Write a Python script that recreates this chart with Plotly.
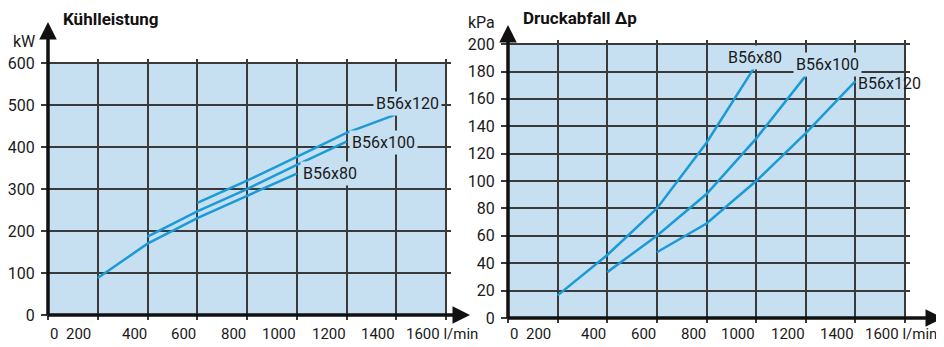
import plotly.graph_objects as go

# Kühlleistung (kW) vs flow (l/min)
flow_80 = [200, 400, 600, 800, 1000]
kw_80 = [88, 170, 231, 284, 337]
flow_100 = [400, 600, 800, 1000, 1200]
kw_100 = [187, 247, 300, 358, 413]
flow_120 = [600, 800, 1000, 1200, 1400]
kw_120 = [267, 320, 377, 434, 478]

# Druckabfall (kPa) vs flow (l/min)
dp_80 = [16.5, 46, 80, 128, 185]
dp_100 = [33.5, 60, 90.5, 131, 177]
dp_120 = [48, 69, 100, 135, 173]

x_ticks = [0, 200, 400, 600, 800, 1000, 1200, 1400, 1600]
series_names = ["B56x80", "B56x100", "B56x120"]

BLUE_BG = "#c6e0f1"
LINE = "#1a9bd7"
GRID = "#3a3a3a"
TXT = "#1a1a1a"
FONT = "Roboto, Liberation Sans, sans-serif"

# the page body keeps its default 8px margin, so the figure sits at (8, 8)
OFF = 8
W, H = 944 - OFF, 347 - OFF


def px_x(p):
    # screen pixel -> paper fraction
    return (p - OFF) / W


def px_y(p):
    return 1 - (p - OFF) / H


fig = go.Figure()

# left chart
for fx, fy in [(flow_80, kw_80), (flow_100, kw_100), (flow_120, kw_120)]:
    fig.add_trace(go.Scatter(x=fx, y=fy, mode="lines", xaxis="x", yaxis="y",
                             line=dict(color=LINE, width=2.5), showlegend=False))
# right chart
for fx, fy in [(flow_80, dp_80), (flow_100, dp_100), (flow_120, dp_120)]:
    fig.add_trace(go.Scatter(x=fx, y=fy, mode="lines", xaxis="x2", yaxis="y2",
                             line=dict(color=LINE, width=2.5), showlegend=False))

ax_common = dict(showgrid=True, gridcolor=GRID, gridwidth=1.5, zeroline=False,
                 showline=False, ticks="outside", tickcolor=GRID, tickwidth=1.5,
                 automargin=False, fixedrange=True,
                 tickfont=dict(family=FONT, size=16, color=TXT))

fig.update_layout(
    width=W, height=H, margin=dict(l=0, r=0, t=0, b=0, autoexpand=False),
    paper_bgcolor="white", plot_bgcolor="white",
    xaxis=dict(ax_common, domain=[px_x(48), px_x(451)], range=[0, 1620],
               tickvals=x_ticks, showticklabels=False, ticklen=4, anchor="y"),
    yaxis=dict(ax_common, domain=[px_y(315), px_y(59)], range=[0, 610],
               tickvals=[0, 100, 200, 300, 400, 500, 600], ticklen=6,
               ticklabelstandoff=3, anchor="x"),
    xaxis2=dict(ax_common, domain=[px_x(508), px_x(910)], range=[0, 1620],
                tickvals=x_ticks, showticklabels=False, ticklen=4, anchor="y2"),
    yaxis2=dict(ax_common, domain=[px_y(318), px_y(40)], range=[0, 203],
                tickvals=list(range(0, 201, 20)), ticklen=6,
                ticklabelstandoff=3, anchor="x2"),
)

# blue panels under the grid
for xr, yr, top in [("x", "y", 600), ("x2", "y2", 200)]:
    fig.add_shape(type="rect", xref=xr, yref=yr, x0=0, x1=1600, y0=0, y1=top,
                  fillcolor=BLUE_BG, line_width=0, layer="below")

# thick axis arrows (head position in paper, tail as pixel offset)
arrows = [
    dict(x=px_x(48), y=px_y(22), ax=0, ay=295),
    dict(x=px_x(470), y=px_y(315), ax=-424, ay=0),
    dict(x=px_x(508), y=px_y(25), ax=0, ay=295),
    dict(x=px_x(943), y=px_y(318), ax=-437, ay=0),
]
for a in arrows:
    fig.add_annotation(xref="paper", yref="paper", text="", showarrow=True,
                       arrowhead=2, arrowsize=1.0, arrowwidth=3.5,
                       arrowcolor="#111", standoff=0, **a)

# x tick labels, right-aligned at the grid lines as in the print
for xr in ["x", "x2"]:
    for v in x_ticks:
        kw = dict(x=v, xref=xr, y=px_y(334), yref="paper", showarrow=False,
                  yanchor="middle", font=dict(family=FONT, size=15, color=TXT))
        if v == 0:
            fig.add_annotation(text="0", xanchor="left", xshift=0, **kw)
        elif v == 1600:
            fig.add_annotation(text="1600 l/min", xanchor="left", xshift=-42, **kw)
        else:
            fig.add_annotation(text=str(v), xanchor="right",
                               xshift=-5 if v == 200 else 1, **kw)

# series labels
lbl_left = [(1133, 338), (1347, 412), (1444, 505)]
lbl_right = [(995, 190.5), (1286, 185), (1536, 171.5)]
for (lx, ly), name in zip(lbl_left, series_names):
    fig.add_annotation(x=lx, y=ly, xref="x", yref="y", text=name, showarrow=False,
                       bgcolor=BLUE_BG, borderpad=2,
                       font=dict(family=FONT, size=16, color=TXT))
for (lx, ly), name in zip(lbl_right, series_names):
    fig.add_annotation(x=lx, y=ly, xref="x2", yref="y2", text=name, showarrow=False,
                       bgcolor=BLUE_BG if name != "B56x120" else None, borderpad=2,
                       font=dict(family=FONT, size=16, color=TXT))

# titles and units
fig.add_annotation(x=px_x(61), y=px_y(19), xref="paper", yref="paper",
                   text="<b>Kühlleistung</b>", showarrow=False, xanchor="left",
                   yanchor="middle", font=dict(family=FONT, size=17, color="#111"))
fig.add_annotation(x=px_x(521), y=px_y(18), xref="paper", yref="paper",
                   text="<b>Druckabfall Δp</b>", showarrow=False, xanchor="left",
                   yanchor="middle", font=dict(family=FONT, size=17, color="#111"))
fig.add_annotation(x=px_x(37), y=px_y(41), xref="paper", yref="paper", text="kW",
                   showarrow=False, xanchor="right", yanchor="middle",
                   font=dict(family=FONT, size=16, color=TXT))
fig.add_annotation(x=px_x(497), y=px_y(22), xref="paper", yref="paper", text="kPa",
                   showarrow=False, xanchor="right", yanchor="middle",
                   font=dict(family=FONT, size=16, color=TXT))

fig.write_html("out.html")
